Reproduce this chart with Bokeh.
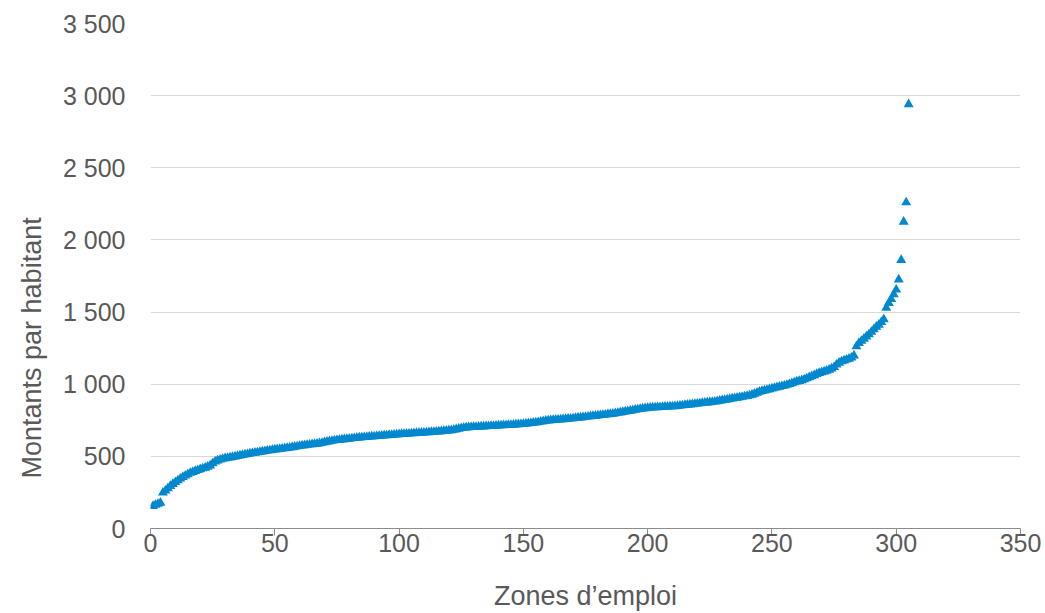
from bokeh.plotting import figure
from bokeh.models import Range1d, FixedTicker, Title
from bokeh.embed import file_html
from bokeh.resources import INLINE

# Montants par habitant, zones d'emploi triées par ordre croissant
montants = [
    155, 163, 170, 178, 248, 262, 279, 294, 308, 321,
    333, 345, 356, 366, 376, 385, 391, 398, 404, 410,
    416, 421, 428, 436, 451, 464, 471, 477, 482, 486,
    489, 492, 495, 499, 502, 506, 509, 512, 515, 519,
    522, 524, 527, 530, 533, 536, 539, 541, 544, 547,
    549, 551, 553, 556, 558, 560, 563, 566, 569, 572,
    575, 577, 579, 581, 583, 585, 587, 590, 593, 597,
    601, 604, 607, 610, 612, 614, 616, 618, 620, 622,
    624, 626, 628, 630, 631, 633, 634, 636, 637, 638,
    640, 641, 643, 644, 645, 647, 648, 650, 651, 653,
    654, 655, 656, 657, 659, 660, 661, 662, 663, 664,
    666, 667, 668, 669, 671, 672, 673, 675, 677, 679,
    681, 684, 687, 691, 695, 698, 700, 701, 702, 703,
    704, 705, 706, 707, 708, 709, 710, 711, 712, 713,
    714, 715, 716, 717, 718, 719, 720, 722, 723, 724,
    726, 728, 730, 732, 734, 737, 740, 743, 746, 748,
    750, 751, 753, 754, 755, 757, 758, 760, 761, 763,
    765, 767, 769, 771, 773, 775, 777, 779, 781, 783,
    785, 787, 789, 791, 793, 795, 798, 801, 804, 807,
    810, 813, 816, 819, 822, 825, 828, 831, 833, 835,
    837, 838, 839, 840, 841, 842, 843, 844, 845, 846,
    847, 849, 851, 853, 855, 857, 859, 861, 863, 865,
    867, 869, 871, 873, 875, 877, 879, 882, 885, 888,
    891, 894, 897, 900, 903, 906, 909, 912, 915, 918,
    922, 927, 933, 940, 947, 952, 956, 960, 965, 970,
    974, 978, 982, 986, 990, 995, 1000, 1006, 1012, 1018,
    1022, 1027, 1033, 1040, 1048, 1055, 1062, 1070, 1077, 1083,
    1088, 1093, 1100, 1108, 1118, 1135, 1148, 1158, 1164, 1170,
    1176, 1184, 1198, 1262, 1285, 1300, 1315, 1330, 1345, 1362,
    1380, 1398, 1412, 1430, 1450, 1530, 1562, 1590, 1622, 1655,
    1725, 1860, 2125, 2260, 2940,
]
rangs = list(range(1, len(montants) + 1))

x_ticks = [0, 50, 100, 150, 200, 250, 300, 350]
y_ticks = [0, 500, 1000, 1500, 2000, 2500, 3000, 3500]
y_tick_labels = ["0", "500", "1 000", "1 500", "2 000", "2 500", "3 000", "3 500"]

FONT = "Liberation Sans"
TXT = "#595959"

p = figure(width=1045, height=613, output_backend="svg", toolbar_location=None,
           x_range=Range1d(0, 350), y_range=Range1d(0, 3500),
           min_border_left=150, min_border_right=25, min_border_top=23, min_border_bottom=83)
p.outline_line_color = None
p.background_fill_color = "white"

p.scatter(rangs, montants, marker="triangle", size=10, color="#0088CE", line_width=0)

# Grid
p.xgrid.visible = False
p.ygrid.grid_line_color = "#D9D9D9"
p.ygrid.grid_line_width = 1
p.ygrid.ticker = FixedTicker(ticks=y_ticks)

# X axis
xa = p.xaxis[0]
xa.ticker = FixedTicker(ticks=x_ticks)
xa.axis_line_color = "#8C8C8C"
xa.axis_line_width = 1
xa.major_tick_line_color = "#8C8C8C"
xa.major_tick_out = 7
xa.major_tick_in = 0
xa.minor_tick_line_color = None
xa.major_label_text_font = FONT
xa.major_label_text_font_size = "25px"
xa.major_label_text_line_height = 1.0
xa.major_label_text_color = TXT
xa.major_label_standoff = -2
xa.axis_label = "Zones d\u2019emploi"
xa.axis_label_text_font = FONT
xa.axis_label_text_font_size = "27px"
xa.axis_label_text_line_height = 1.0
xa.axis_label_text_font_style = "normal"
xa.axis_label_text_color = TXT
xa.axis_label_standoff = 26

# Y axis
ya = p.yaxis[0]
ya.ticker = FixedTicker(ticks=y_ticks)
ya.major_label_overrides = {t: l for t, l in zip(y_ticks, y_tick_labels)}
ya.axis_line_color = None
ya.major_tick_line_color = None
ya.minor_tick_line_color = None
ya.major_tick_out = 0
ya.major_tick_in = 0
ya.major_label_text_font = FONT
ya.major_label_text_font_size = "25px"
ya.major_label_text_color = TXT
ya.major_label_standoff = 25

# Y axis title, set lower than the frame centre as in the original
y_title = Title(text="Montants par habitant", align="left", offset=50,
                text_font=FONT, text_font_size="27px", text_color=TXT,
                text_font_style="normal", standoff=25)
p.add_layout(y_title, "left")

open("out.html", "w").write(file_html(p, INLINE))
